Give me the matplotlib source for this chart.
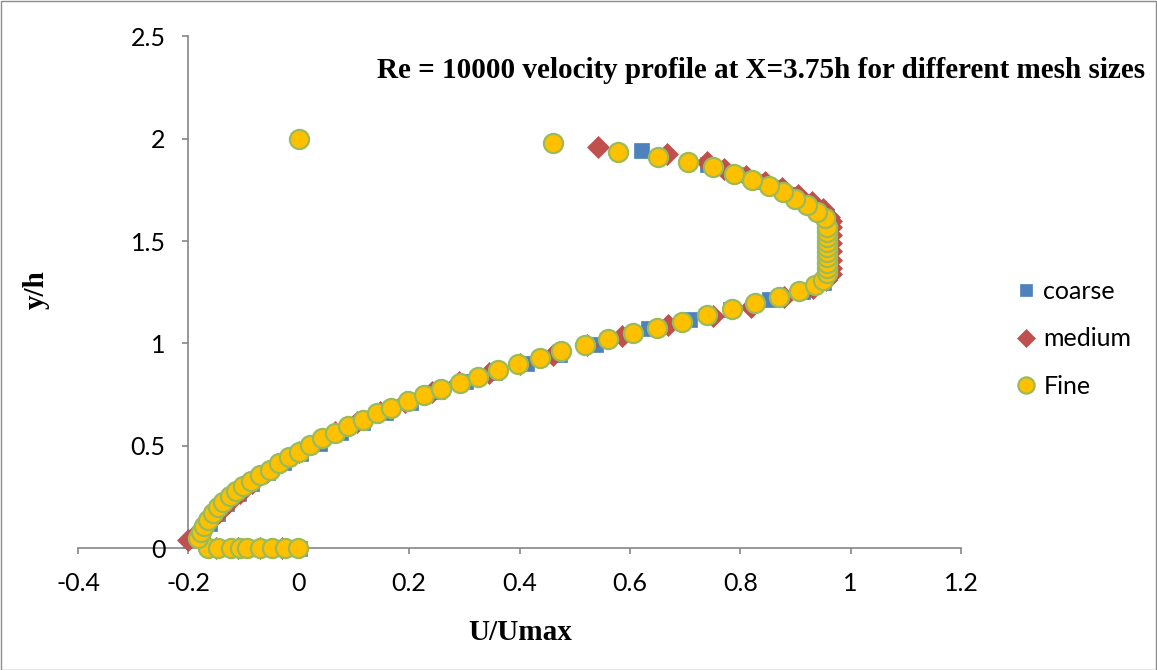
import matplotlib
matplotlib.use("Agg")
import matplotlib.pyplot as plt
from matplotlib.patches import Rectangle

# ---------------- data ----------------
fine_u = [
    -0.165, -0.147, -0.123, -0.107, -0.094, -0.071, -0.049, -0.025, -0.002,
    -0.183, -0.178, -0.172, -0.164, -0.155, -0.146, -0.137, -0.125, -0.113, -0.101,
    -0.086, -0.071, -0.053, -0.035, -0.017, 0.001, 0.021, 0.042, 0.065, 0.089,
    0.116, 0.141, 0.168, 0.198, 0.227, 0.257, 0.292, 0.325, 0.361, 0.397,
    0.437, 0.476, 0.518, 0.560, 0.605, 0.649, 0.694, 0.739, 0.785, 0.827,
    0.871, 0.906, 0.935, 0.950, 0.958, 0.958, 0.958, 0.958, 0.958, 0.958,
    0.958, 0.958, 0.958, 0.958, 0.953, 0.939, 0.921, 0.900, 0.877, 0.852,
    0.822, 0.788, 0.751, 0.705, 0.651, 0.578, 0.460, 0.000]
fine_y = [
    0, 0, 0, 0, 0, 0, 0, 0, 0,
    0.047, 0.080, 0.108, 0.137, 0.170, 0.199, 0.226, 0.254, 0.280, 0.303,
    0.329, 0.357, 0.381, 0.414, 0.446, 0.471, 0.503, 0.536, 0.561, 0.594,
    0.627, 0.658, 0.686, 0.718, 0.748, 0.777, 0.808, 0.837, 0.870, 0.898,
    0.927, 0.961, 0.990, 1.020, 1.049, 1.077, 1.106, 1.139, 1.168, 1.196,
    1.228, 1.258, 1.285, 1.310, 1.345, 1.370, 1.395, 1.420, 1.445, 1.470,
    1.495, 1.520, 1.545, 1.570, 1.611, 1.644, 1.676, 1.706, 1.741, 1.769,
    1.799, 1.828, 1.861, 1.888, 1.912, 1.937, 1.978, 2.000]

coarse_u = [
    -0.160, -0.120, -0.080, -0.040, 0.000,
    -0.176, -0.163, -0.148, -0.131, -0.110, -0.086, -0.058, -0.028, 0.002, 0.037,
    0.074, 0.114, 0.157, 0.202, 0.250, 0.302, 0.354, 0.412, 0.472, 0.537,
    0.633, 0.707, 0.782, 0.852, 0.912, 0.950, 0.960, 0.960, 0.960, 0.960,
    0.960, 0.960, 0.955, 0.940, 0.918, 0.890, 0.860, 0.825, 0.790, 0.739,
    0.621]
coarse_y = [
    0, 0, 0, 0, 0,
    0.070, 0.120, 0.170, 0.220, 0.270, 0.320, 0.370, 0.420, 0.465, 0.515,
    0.565, 0.615, 0.665, 0.715, 0.765, 0.815, 0.860, 0.905, 0.950, 0.995,
    1.074, 1.120, 1.170, 1.215, 1.255, 1.300, 1.350, 1.400, 1.450, 1.500,
    1.550, 1.600, 1.625, 1.660, 1.695, 1.730, 1.765, 1.795, 1.830, 1.875,
    1.945]

medium_u = [
    -0.150, -0.110, -0.070, -0.030,
    -0.200, -0.180, -0.160, -0.145, -0.128, -0.107, -0.084, -0.057, -0.030, 0.000,
    0.030, 0.066, 0.106, 0.148, 0.193, 0.241, 0.291, 0.344, 0.401, 0.461,
    0.523, 0.585, 0.669, 0.750, 0.820, 0.880, 0.932, 0.955,
    0.965, 0.965, 0.965, 0.965, 0.965, 0.965, 0.965, 0.965,
    0.960, 0.950, 0.930, 0.905, 0.875, 0.845, 0.810, 0.770, 0.740, 0.668, 0.542]
medium_y = [
    0, 0, 0, 0,
    0.039, 0.085, 0.130, 0.175, 0.220, 0.270, 0.320, 0.370, 0.420, 0.470,
    0.515, 0.565, 0.615, 0.665, 0.715, 0.762, 0.810, 0.855, 0.900, 0.945,
    0.990, 1.035, 1.090, 1.135, 1.180, 1.225, 1.270, 1.310,
    1.340, 1.370, 1.410, 1.450, 1.490, 1.530, 1.570, 1.600,
    1.620, 1.655, 1.690, 1.725, 1.758, 1.790, 1.820, 1.850, 1.885, 1.928, 1.962]

x_ticks = [-0.4, -0.2, 0, 0.2, 0.4, 0.6, 0.8, 1, 1.2]
x_tick_labels = ["-0.4", "-0.2", "0", "0.2", "0.4", "0.6", "0.8", "1", "1.2"]
y_ticks = [0, 0.5, 1, 1.5, 2, 2.5]
y_tick_labels = ["0", "0.5", "1", "1.5", "2", "2.5"]

W, H = 1157, 670
fig = plt.figure(figsize=(W / 100, H / 100), dpi=100)
ax = fig.add_axes([78 / W, 1 - 548 / H, (961 - 78) / W, (548 - 36.5) / H])

axis_grey = "#868686"
sans = "Lato"
serif = "Liberation Serif"

ax.plot(coarse_u, coarse_y, linestyle="none", marker="s", markersize=10.8,
        markerfacecolor="#4F81BD", markeredgecolor="#4F81BD", markeredgewidth=0.5,
        label="coarse", clip_on=False, zorder=3)
ax.plot(medium_u, medium_y, linestyle="none", marker="D", markersize=11,
        markerfacecolor="#C0504D", markeredgecolor="#C0504D", markeredgewidth=0.5,
        label="medium", clip_on=False, zorder=4)
ax.plot(fine_u, fine_y, linestyle="none", marker="o", markersize=13.8,
        markerfacecolor="#FFC000", markeredgecolor="#9BBB59", markeredgewidth=1.6,
        label="Fine", clip_on=False, zorder=5)

ax.set_xlim(-0.4, 1.2)
ax.set_ylim(0, 2.5)
ax.set_xticks(x_ticks)
ax.set_xticklabels(x_tick_labels)
ax.set_yticks(y_ticks)
ax.set_yticklabels(y_tick_labels)

for s in ["top", "right"]:
    ax.spines[s].set_visible(False)
ax.spines["left"].set_position(("data", -0.2))
ax.spines["bottom"].set_position(("data", 0))
for s in ["left", "bottom"]:
    ax.spines[s].set_color(axis_grey)
    ax.spines[s].set_linewidth(1.2)
    ax.spines[s].set_zorder(1)

ax.tick_params(axis="both", direction="out", length=4.5, width=1.2,
               color=axis_grey, labelcolor="black", labelsize=18)
ax.tick_params(axis="x", pad=13)
ax.tick_params(axis="y", pad=12)
for lab in ax.get_xticklabels() + ax.get_yticklabels():
    lab.set_fontfamily(sans)

# title and axis titles
fig.text(1145 / W, 1 - 78 / H,
         "Re = 10000 velocity profile at X=3.75h for different mesh sizes",
         ha="right", va="baseline", fontsize=21, fontweight="bold",
         fontfamily=serif)
fig.text(520 / W, 1 - 640 / H, "U/Umax", ha="center", va="baseline",
         fontsize=21, fontweight="bold", fontfamily=serif)
fig.text(36 / W, 1 - 290 / H, "y/h", ha="center", va="center", rotation=90,
         fontsize=21, fontweight="bold", fontfamily=serif)

leg = fig.legend(loc="center left", bbox_to_anchor=(1016 / W, 1 - 339 / H),
                 bbox_transform=fig.transFigure, frameon=False,
                 prop={"family": sans, "size": 18}, handlelength=0.8,
                 handletextpad=0.3, labelspacing=0.98, borderpad=0,
                 borderaxespad=0, markerscale=0.85)

# chart border
fig.patches.append(Rectangle((0.5 / W, 0.5 / H), 1 - 1.5 / W, 1 - 1.5 / H,
                             transform=fig.transFigure, fill=False,
                             edgecolor="#8c8c8c", linewidth=1))

fig.savefig("out.png", dpi=100)
